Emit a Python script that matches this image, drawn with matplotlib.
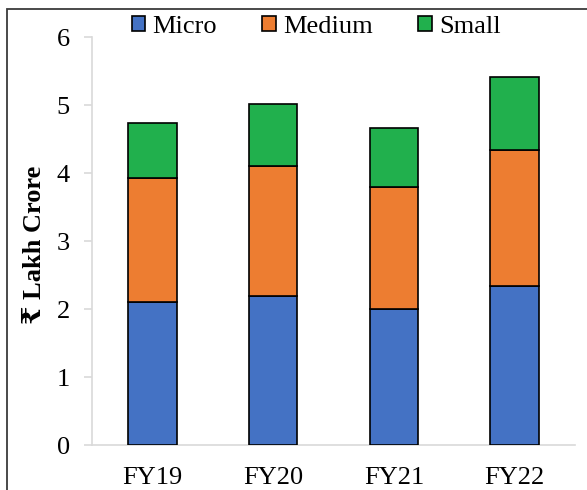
import matplotlib
matplotlib.use("Agg")
import matplotlib.pyplot as plt
from matplotlib.patches import Rectangle
import numpy as np

FAM = ['Liberation Serif', 'DejaVu Serif', 'DejaVu Sans']
plt.rcParams['font.family'] = FAM

categories = ["FY19", "FY20", "FY21", "FY22"]
micro = [2.11, 2.19, 2.00, 2.34]
medium = [1.81, 1.92, 1.79, 2.00]
small = [0.82, 0.90, 0.87, 1.07]
series_names = ["Micro", "Medium", "Small"]
colors = ["#4472C4", "#ED7D31", "#21B04D"]
yticks = [0, 1, 2, 3, 4, 5, 6]

W, H = 587, 490
fig = plt.figure(figsize=(W / 100, H / 100), dpi=100)
ax = fig.add_axes([92 / W, 1 - 445 / H, (575 - 92) / W, (445 - 37) / H])

x = np.arange(len(categories))
bottom = np.zeros(len(categories))
handles = []
for name, vals, c in zip(series_names, [micro, medium, small], colors):
    b = ax.bar(x, vals, width=0.4, bottom=bottom, color=c, edgecolor="black",
               linewidth=1.2, label=name, zorder=3)
    bottom += np.array(vals)
    handles.append(b)

ax.set_xlim(-0.5, len(categories) - 0.5)
ax.set_ylim(0, 6)
ax.set_yticks(yticks)
ax.set_yticklabels([str(t) for t in yticks])
ax.set_xticks(x)
ax.set_xticklabels(categories)

for s in ["top", "right"]:
    ax.spines[s].set_visible(False)
for s in ["left", "bottom"]:
    ax.spines[s].set_color("#D9D9D9")
    ax.spines[s].set_linewidth(1.2)

ax.tick_params(axis="y", length=6, width=1.2, color="#D9D9D9", labelsize=19, pad=10)
ax.tick_params(axis="x", length=0, labelsize=19, pad=16)

ax.set_ylabel("₹ Lakh Crore", fontsize=19, fontweight="bold")
ax.yaxis.set_label_coords(-(92 - 46) / (575 - 92), 0.49)

leg = fig.legend(handles=handles, labels=series_names, loc="center",
                 bbox_to_anchor=(316 / W, 1 - 27 / H), ncol=3, frameon=False,
                 prop=dict(family=FAM, size=19), handlelength=0.5, handleheight=0.5,
                 handletextpad=0.27, columnspacing=1.74, borderaxespad=0)

# outer frame
fig.add_artist(Rectangle((7 / W, -0.1), 1.2, 0.1 + (1 - 9 / H),
                         transform=fig.transFigure, fill=False,
                         edgecolor="#3a3a3a", linewidth=1.3, clip_on=False))

fig.savefig("out.png", dpi=100)
